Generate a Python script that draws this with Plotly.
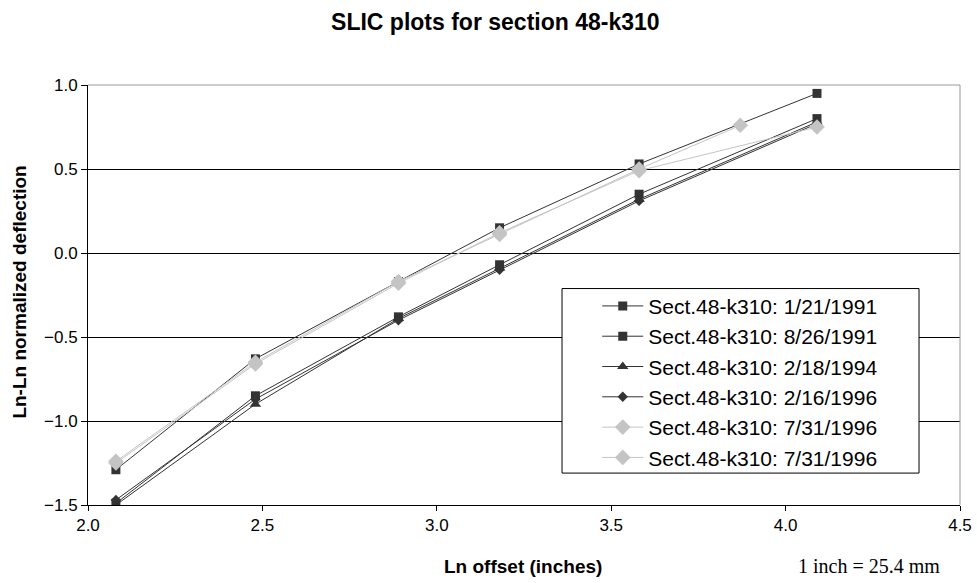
import plotly.graph_objects as go

# offsets (ln of inches) and ln-ln normalized deflections
x_main = [2.08, 2.48, 2.89, 3.18, 3.58, 4.09]
x_last = [2.08, 2.48, 2.89, 3.18, 3.58, 3.87]

names = [
    "Sect.48-k310: 1/21/1991",
    "Sect.48-k310: 8/26/1991",
    "Sect.48-k310: 2/18/1994",
    "Sect.48-k310: 2/16/1996",
    "Sect.48-k310: 7/31/1996",
    "Sect.48-k310: 7/31/1996",
]
y_19910121 = [-1.29, -0.63, -0.17, 0.15, 0.53, 0.95]
y_19910826 = [-1.49, -0.85, -0.38, -0.07, 0.35, 0.80]
y_19940218 = [-1.50, -0.90, -0.39, -0.09, 0.32, 0.78]
y_19960216 = [-1.47, -0.87, -0.40, -0.10, 0.31, 0.77]
y_19960731a = [-1.25, -0.66, -0.18, 0.12, 0.49, 0.75]
y_19960731b = [-1.24, -0.65, -0.17, 0.11, 0.50, 0.76]

dark = "#333333"
light = "#c4c4c4"

series = [
    (x_main, y_19910121, "square", 9, dark),
    (x_main, y_19910826, "square", 9, dark),
    (x_main, y_19940218, "triangle-up", 10, dark),
    (x_main, y_19960216, "diamond", 8, dark),
    (x_main, y_19960731a, "diamond", 12, light),
    (x_last, y_19960731b, "diamond", 12, light),
]

fig = go.Figure()
for i, (xs, ys, sym, sz, col) in enumerate(series):
    fig.add_trace(go.Scatter(
        x=xs, y=ys, name=names[i], mode="lines+markers",
        legendgroup=f"g{i}",
        line=dict(color=col, width=1),
        marker=dict(symbol=sym, size=sz, color=col),
    ))

fig.update_layout(
    width=977, height=583,
    margin=dict(l=88, r=17, t=85, b=78),
    paper_bgcolor="white", plot_bgcolor="white",
    font=dict(family="Liberation Sans, Arial", color="black"),
    title=dict(text="<b>SLIC plots for section 48-k310</b>", x=0.507, xanchor="center",
               y=0.962, yanchor="middle", font=dict(size=23)),
    showlegend=True,
    # legend text only; its frame is the rectangle shape below
    legend=dict(x=0.584, y=0.522, xanchor="left", yanchor="top",
                bgcolor="rgba(0,0,0,0)", borderwidth=0,
                font=dict(size=21), tracegroupgap=0, itemwidth=41),
    xaxis=dict(range=[2.0, 4.5], dtick=0.5, tickformat=".1f", showgrid=False,
               showline=True, linecolor="black", linewidth=1,
               ticks="outside", ticklen=5, tickcolor="black",
               tickfont=dict(size=17), zeroline=False, automargin=False),
    yaxis=dict(range=[-1.5, 1.0], dtick=0.5, tickformat=".1f", showgrid=True,
               gridcolor="black", gridwidth=1,
               showline=True, linecolor="black", linewidth=1,
               ticks="outside", ticklen=6, tickcolor="black",
               tickfont=dict(size=17), zeroline=False, automargin=False),
    shapes=[
        dict(type="line", xref="paper", yref="paper", x0=0, x1=1, y0=1, y1=1,
             line=dict(color="#999999", width=1), layer="above"),
        dict(type="line", xref="paper", yref="paper", x0=1, x1=1, y0=0, y1=1,
             line=dict(color="#999999", width=1), layer="above"),
        dict(type="rect", xref="paper", yref="paper", x0=0.5436, x1=0.953, y0=0.076, y1=0.5154,
             fillcolor="white", line=dict(color="black", width=1), layer="above"),
    ],
    annotations=[
        dict(text="<b>Ln offset (inches)</b>", xref="paper", yref="paper", x=0.499, y=-0.147,
             xanchor="center", yanchor="middle", showarrow=False, font=dict(size=19)),
        dict(text="<b>Ln-Ln normalized deflection</b>", xref="paper", yref="paper",
             x=-0.078, y=0.508, xanchor="center", yanchor="middle", textangle=-90,
             showarrow=False, font=dict(size=19)),
        dict(text="1 inch = 25.4 mm", xref="paper", yref="paper", x=0.896, y=-0.145,
             xanchor="center", yanchor="middle", showarrow=False,
             font=dict(family="Liberation Serif, Times New Roman", size=20, color="black")),
    ],
)

# drop the browser's default body margin so the figure sits at the page corner
fig.write_html("out.html", config={"displayModeBar": False},
               post_script="document.body.style.margin='0';")
